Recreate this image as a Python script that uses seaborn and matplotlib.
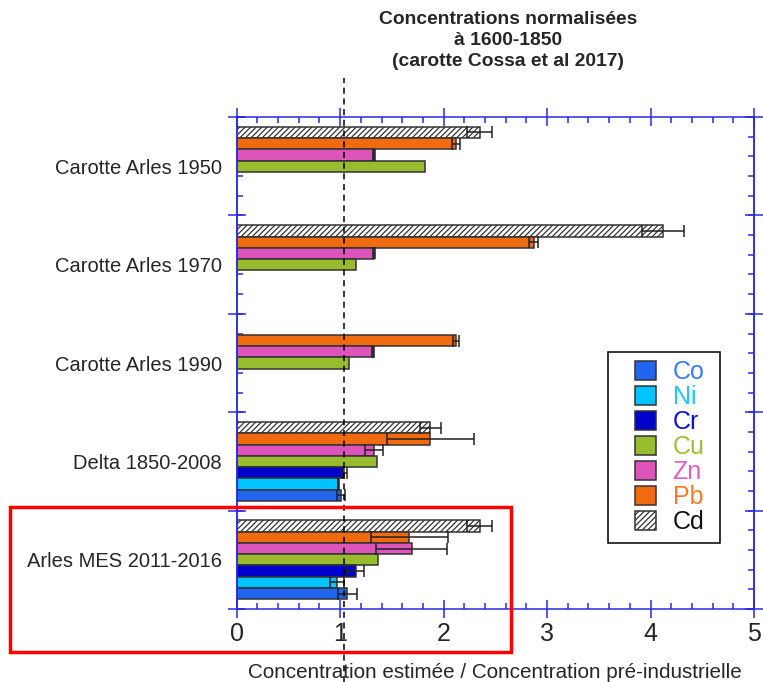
import numpy as np
import pandas as pd
import seaborn as sns
import matplotlib
matplotlib.use('Agg')
import matplotlib.pyplot as plt
from matplotlib.patches import Patch, Rectangle
from matplotlib.ticker import MultipleLocator, FixedLocator

sns.set_style('white')
plt.rcParams['font.family'] = ['Liberation Sans', 'DejaVu Sans']
plt.rcParams['hatch.linewidth'] = 0.9

# --- data ---
groups = ["Carotte Arles 1950", "Carotte Arles 1970", "Carotte Arles 1990",
          "Delta 1850-2008", "Arles MES 2011-2016"]
elements = ["Cd", "Pb", "Zn", "Cu", "Cr", "Ni", "Co"]   # top to bottom inside a group
legend_order = ["Co", "Ni", "Cr", "Cu", "Zn", "Pb", "Cd"]

nan = np.nan
cd = [2.35, 4.12, nan, 1.87, 2.35]
pb = [2.12, 2.87, 2.12, 1.87, 1.67]
zn = [1.33, 1.33, 1.32, 1.33, 1.69]
cu = [1.82, 1.15, 1.09, 1.36, 1.37]
cr = [nan, nan, nan, 1.04, 1.15]
ni = [nan, nan, nan, 0.98, 0.97]
co = [nan, nan, nan, 1.01, 1.07]

cd_err = [0.12, 0.20, nan, 0.10, 0.12]
pb_err = [0.035, 0.045, 0.03, 0.42, 0.37]
zn_err = [0.01, 0.01, 0.01, 0.085, 0.34]
cu_err = [nan, nan, nan, nan, nan]
cr_err = [nan, nan, nan, 0.025, 0.08]
ni_err = [nan, nan, nan, 0.005, 0.065]
co_err = [nan, nan, nan, 0.04, 0.09]

values = {"Cd": cd, "Pb": pb, "Zn": zn, "Cu": cu, "Cr": cr, "Ni": ni, "Co": co}
errors = {"Cd": cd_err, "Pb": pb_err, "Zn": zn_err, "Cu": cu_err,
          "Cr": cr_err, "Ni": ni_err, "Co": co_err}

colors = {"Co": "#2266f0", "Ni": "#00c4ff", "Cr": "#0000cc", "Cu": "#99bb2e",
          "Zn": "#dd55bb", "Pb": "#f06a10", "Cd": "#ffffff"}
text_colors = {"Co": "#3a7cff", "Ni": "#18c8ff", "Cr": "#1010cc", "Cu": "#9cc03a",
               "Zn": "#e060c0", "Pb": "#ff7a28", "Cd": "#111111"}

rows = []
for el in elements:
    for g, v, e in zip(groups, values[el], errors[el]):
        if not np.isnan(v):
            rows.append({"groupe": g, "element": el, "valeur": v, "err": e})
df = pd.DataFrame(rows)

blue = "#2a2ae0"
edge = "#333333"

fig = plt.figure(figsize=(7.63, 6.82), dpi=100)
ax = fig.add_axes([0.3102, 0.1070, 0.6780, 0.7214])

sns.barplot(data=df, y="groupe", x="valeur", hue="element", order=groups,
            hue_order=elements, palette=colors, orient="h", width=0.8,
            errorbar=None, edgecolor=edge, linewidth=1.1, legend=False,
            saturation=1, ax=ax)

# hatch the Cd bars and add the error bars, reading positions from the drawn bars
n_el = len(elements)
slot = 0.8 / n_el
ex, ey, ee = [], [], []
for bar in ax.patches:
    yc = bar.get_y() + bar.get_height() / 2
    gi = int(round(yc))
    hi = int(round((yc - gi + 0.4) / slot - 0.5))
    el = elements[hi]
    if el == "Cd":
        bar.set_hatch("//////")
    e = errors[el][gi]
    if not np.isnan(e):
        ex.append(bar.get_width())
        ey.append(yc)
        ee.append(e)
ax.errorbar(ex, ey, xerr=ee, fmt="none", ecolor="#222222", elinewidth=1.1,
            capsize=4, capthick=1.1, zorder=4)

ax.set_xlim(0, 5)
ax.set_ylim(4.5, -0.5)
ax.set_ylabel("")
ax.set_xlabel("Concentration estimée / Concentration pré-industrielle",
              fontsize=14.9, labelpad=12)

# axes styling: blue frame, crossing ticks
for sp in ax.spines.values():
    sp.set_color(blue)
    sp.set_linewidth(1.1)
ax.xaxis.set_major_locator(MultipleLocator(1))
ax.xaxis.set_minor_locator(MultipleLocator(0.2))
ax.tick_params(axis="x", which="major", direction="inout", length=13, width=1.1,
               color=blue, top=True, bottom=True, labelsize=18, pad=3)
ax.tick_params(axis="x", which="minor", direction="in", length=4, width=1.1,
               color=blue, top=True, bottom=True)
ax.tick_params(axis="y", which="major", length=0, labelsize=14.5, pad=10.5)
ax.yaxis.set_minor_locator(FixedLocator(np.arange(-0.5, 4.51, 0.2)))
ax.tick_params(axis="y", which="minor", direction="in", length=4, width=1.1,
               color=blue, left=True, right=True)

bounds = np.arange(-0.5, 4.51, 1.0)
for side in ("left", "right"):
    sec = ax.secondary_yaxis(side)
    sec.set_yticks(bounds)
    sec.set_yticklabels([])
    sec.tick_params(direction="inout", length=13, width=1.1, color=blue)
    sec.spines[side].set_color(blue)
    sec.spines[side].set_linewidth(1.1)

# dashed reference line
ax.axvline(1.04, ymin=-0.148, ymax=1.079, clip_on=False, color="black",
           lw=1.1, ls=(0, (4, 3)), zorder=5)

# legend
handles = []
for el in legend_order:
    handles.append(Patch(facecolor=colors[el], edgecolor=edge, linewidth=1.1,
                         hatch="//////" if el == "Cd" else None))
leg = ax.legend(handles, legend_order, loc="upper left",
                bbox_to_anchor=(0.770, 0.506), frameon=False, fontsize=18,
                borderpad=0, borderaxespad=0, handlelength=0.85,
                handleheight=0.8, handletextpad=0.65, labelspacing=0.04)
for t in leg.get_texts():
    t.set_color(text_colors[t.get_text()])
ax.add_patch(Rectangle((0.718, 0.134), 0.216, 0.388, transform=ax.transAxes,
                       fill=False, edgecolor="black", lw=1.1, zorder=6))

fig.text(0.666, 0.984, "Concentrations normalisées\nà 1600-1850\n(carotte Cossa et al 2017)",
         ha="center", va="top", fontsize=13.9, fontweight="bold", linespacing=1.3)

fig.add_artist(Rectangle((0.0131, 0.044), 0.6566, 0.2126, transform=fig.transFigure,
                         fill=False, edgecolor="red", lw=2.5))

fig.savefig("out.png", dpi=100)
